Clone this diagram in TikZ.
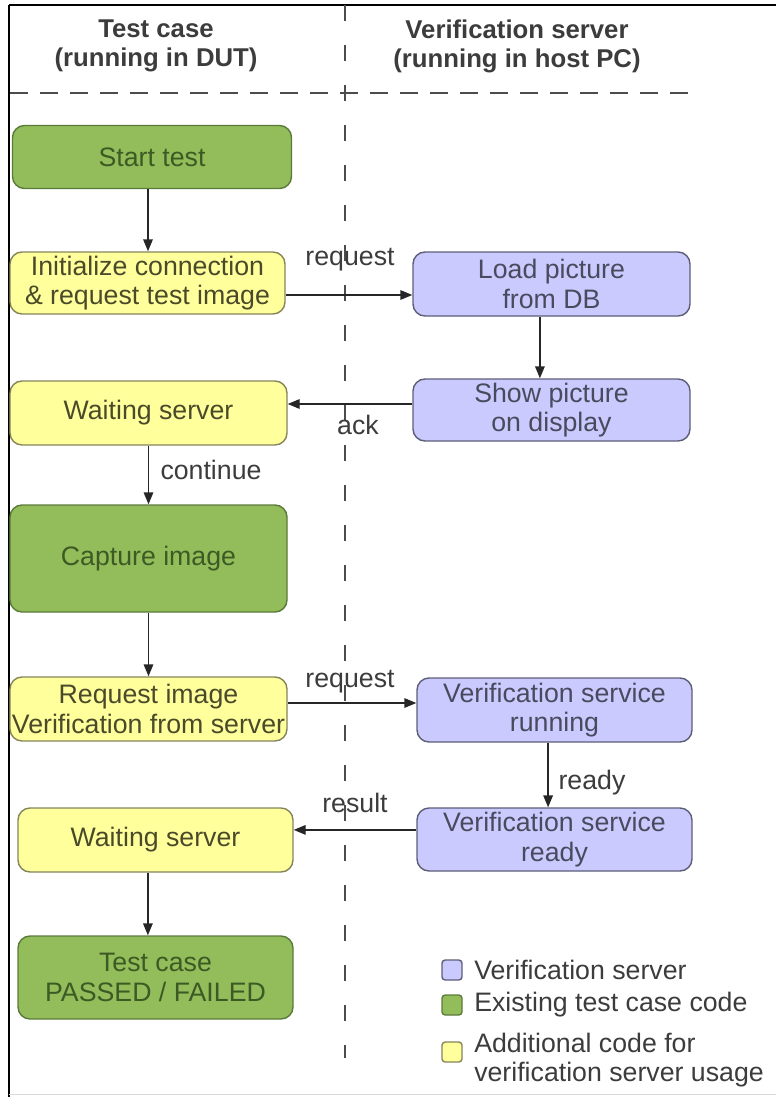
\documentclass[tikz,border=0pt]{standalone}
\usepackage{fontspec}
\setmainfont{Liberation Sans}
\usetikzlibrary{arrows.meta}
\definecolor{grnfill}{HTML}{92BD5A}
\definecolor{grnline}{HTML}{5C7A3A}
\definecolor{grntext}{HTML}{3E5A24}
\definecolor{yelfill}{HTML}{FFFF9C}
\definecolor{yelline}{HTML}{85855A}
\definecolor{yeltext}{HTML}{4A4A2A}
\definecolor{blufill}{HTML}{CACAFF}
\definecolor{bluline}{HTML}{5E5E78}
\definecolor{blutext}{HTML}{4A4A5E}
\definecolor{inktext}{HTML}{3C3C3C}
\tikzset{
	box/.style={rounded corners=0.3cm, line width=1pt, align=center, inner sep=0pt,
		font=\fontsize{19}{21}\selectfont},
	greenbox/.style={box, fill=grnfill, draw=grnline, text=grntext},
	yellowbox/.style={box, fill=yelfill, draw=yelline, text=yeltext},
	bluebox/.style={box, fill=blufill, draw=bluline, text=blutext},
	flow/.style={draw=black!85, line width=1pt, -{Triangle[length=0.3cm,width=0.24cm]}},
	tag/.style={text=inktext, font=\fontsize{19}{21}\selectfont},
	header/.style={text=inktext, align=center, font=\bfseries\fontsize{18.3}{20.6}\selectfont},
	keybox/.style={rounded corners=0.08cm, line width=1pt, minimum size=0.5cm, inner sep=0pt},
	keytext/.style={tag, anchor=west, align=left, inner sep=0pt}
}
\begin{document}
\begin{tikzpicture}
		\useasboundingbox (0,0) rectangle (19.4,-27.425);
		\draw[black, line width=2pt] (0.225,-0.125) -- (19.4,-0.125);
		\draw[black, line width=2pt] (0.225,-0.125) -- (0.225,-27.425);
		\draw[black!15, line width=0.6pt] (0.225,-27.37) -- (19.4,-27.37);
		\draw[black!70, line width=1pt, dash pattern=on 0.4cm off 0.6cm] (8.625,-0.125) -- (8.625,-26.45);
		\draw[black!70, line width=1pt, dash pattern=on 0.45cm off 0.3cm] (0.25,-2.325) -- (17.25,-2.325);
		\node[header] (hdut) at (3.9,-1.15) {Test case\\(running in DUT)};
		\node[header] (hhost) at (12.925,-1.15) {Verification server\\(running in host PC)};
		\node[greenbox, minimum width=6.975cm, minimum height=1.575cm] (start) at (3.8,-3.925) {Start test};
		\node[yellowbox, minimum width=6.875cm, minimum height=1.55cm] (init) at (3.6875,-7.075) {Initialize connection\\\& request test image};
		\node[bluebox, minimum width=6.925cm, minimum height=1.6cm] (load) at (13.7875,-7.1) {Load picture\\from DB};
		\node[bluebox, minimum width=6.925cm, minimum height=1.55cm] (show) at (13.7875,-10.25) {Show picture\\on display};
		\node[yellowbox, minimum width=6.925cm, minimum height=1.6cm] (wait1) at (3.7125,-10.325) {Waiting server};
		\node[greenbox, minimum width=6.925cm, minimum height=2.675cm] (capture) at (3.7125,-13.9625) {Capture image};
		\node[yellowbox, minimum width=6.925cm, minimum height=1.6cm] (reqver) at (3.7125,-17.725) {Request image\\Verification from server};
		\node[bluebox, minimum width=6.875cm, minimum height=1.6cm] (vsrun) at (13.8625,-17.75) {Verification service\\running};
		\node[bluebox, minimum width=6.875cm, minimum height=1.575cm] (vsready) at (13.8625,-20.9875) {Verification service\\ready};
		\node[yellowbox, minimum width=6.875cm, minimum height=1.6cm] (wait2) at (3.8875,-21.0) {Waiting server};
		\node[greenbox, minimum width=6.875cm, minimum height=2.075cm] (verdict) at (3.8875,-24.4375) {Test case\\PASSED / FAILED};
		\draw[flow] ([xshift=-0.1cm]start.south) -- ([xshift=-0.1cm]start.south |- init.north);
		\draw[flow] ([yshift=-0.3cm]init.east) -- ([yshift=-0.3cm]init.east -| load.west);
		\draw[flow] ([xshift=-0.29cm]load.south) -- ([xshift=-0.29cm]load.south |- show.north);
		\draw[flow] ([yshift=0.15cm]show.west) -- ([yshift=0.15cm]show.west -| wait1.east);
		\draw[flow] (wait1.south) -- (capture.north);
		\draw[flow] (capture.south) -- (reqver.north);
		\draw[flow] ([yshift=0.15cm]reqver.east) -- ([yshift=0.15cm]reqver.east -| vsrun.west);
		\draw[flow] ([xshift=-0.16cm]vsrun.south) -- ([xshift=-0.16cm]vsrun.south |- vsready.north);
		\draw[flow] ([yshift=0.24cm]vsready.west) -- ([yshift=0.24cm]vsready.west -| wait2.east);
		\draw[flow] ([xshift=-0.19cm]wait2.south) -- ([xshift=-0.19cm]wait2.south |- verdict.north);
		\node[tag] (req1) at (8.75,-6.5) {request};
		\node[tag] (ack) at (8.95,-10.625) {ack};
		\node[tag] (cont) at (5.275,-11.75) {continue};
		\node[tag] (req2) at (8.75,-17.05) {request};
		\node[tag] (rdy) at (14.8,-19.575) {ready};
		\node[tag] (res) at (8.875,-20.075) {result};
		\node[keybox, fill=blufill, draw=bluline] (keyblue) at (11.3,-24.25) {};
		\node[keybox, fill=grnfill, draw=grnline] (keygreen) at (11.3,-25.125) {};
		\node[keybox, fill=yelfill, draw=yelline] (keyyellow) at (11.3,-26.3) {};
		\node[keytext] (txtblue) at (11.85,-24.25) {Verification server};
		\node[keytext] (txtgreen) at (11.85,-25.125) {Existing test case code};
		\node[keytext] (txtyellow) at (11.85,-26.5) {Additional code for\\verification server usage};
		\end{tikzpicture}
\end{document}
